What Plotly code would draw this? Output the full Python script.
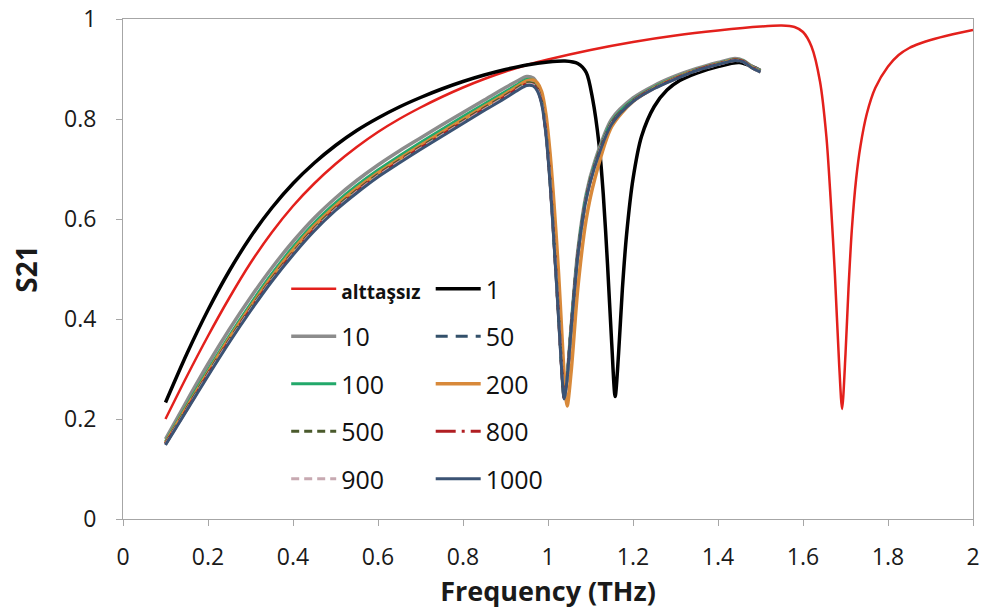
import plotly.graph_objects as go

# ---------------- data ----------------
x_ref = [0.1, 0.15, 0.2, 0.25, 0.3, 0.35, 0.4, 0.45, 0.5, 0.55, 0.6, 0.65, 0.7, 0.75, 0.8,
         0.85, 0.9, 0.95, 1.0, 1.1, 1.2, 1.3, 1.4, 1.5, 1.55, 1.58, 1.6, 1.62, 1.64, 1.655,
         1.665, 1.675, 1.685, 1.692, 1.7, 1.707, 1.715, 1.725, 1.735, 1.75, 1.77, 1.8, 1.825,
         1.85, 1.875, 1.9, 1.95, 2.0]
y_ref = [0.200, 0.285, 0.366, 0.442, 0.512, 0.573, 0.626, 0.671, 0.710, 0.744, 0.774, 0.800,
         0.823, 0.844, 0.863, 0.880, 0.895, 0.908, 0.919, 0.938, 0.954, 0.967, 0.977, 0.985,
         0.987, 0.984, 0.974, 0.945, 0.875, 0.765, 0.640, 0.490, 0.310, 0.220, 0.330, 0.460,
         0.580, 0.680, 0.745, 0.810, 0.862, 0.905, 0.928, 0.942, 0.951, 0.958, 0.969, 0.978]

x_one = [0.1, 0.15, 0.2, 0.25, 0.3, 0.35, 0.4, 0.45, 0.5, 0.55, 0.6, 0.65, 0.7, 0.75, 0.8,
         0.85, 0.9, 0.95, 1.0, 1.04, 1.07, 1.09, 1.105, 1.12, 1.13, 1.14, 1.15, 1.158, 1.166,
         1.175, 1.185, 1.2, 1.22, 1.25, 1.28, 1.31, 1.35, 1.4, 1.45, 1.48, 1.5]
y_one = [0.233, 0.330, 0.418, 0.496, 0.564, 0.622, 0.671, 0.712, 0.747, 0.777, 0.802, 0.824,
         0.843, 0.860, 0.875, 0.888, 0.899, 0.908, 0.914, 0.916, 0.911, 0.893, 0.840, 0.750,
         0.650, 0.510, 0.350, 0.245, 0.330, 0.460, 0.570, 0.680, 0.765, 0.825, 0.858, 0.877,
         0.892, 0.905, 0.913, 0.905, 0.897]

x_sub = [0.1, 0.15, 0.2, 0.25, 0.3, 0.35, 0.4, 0.45, 0.5, 0.55, 0.6, 0.65, 0.7, 0.75, 0.8,
         0.85, 0.9, 0.93, 0.95, 0.965, 0.975, 0.985, 0.995, 1.005, 1.015, 1.025, 1.032, 1.038,
         1.045, 1.055, 1.07, 1.09, 1.11, 1.15, 1.2, 1.25, 1.3, 1.35, 1.4, 1.44, 1.46, 1.48, 1.5]

y_10 = [0.160, 0.236, 0.310, 0.379, 0.443, 0.502, 0.555, 0.602, 0.642, 0.677, 0.708, 0.736,
        0.762, 0.788, 0.813, 0.838, 0.863, 0.877, 0.885, 0.882, 0.869, 0.840, 0.780, 0.680,
        0.550, 0.410, 0.310, 0.245, 0.285, 0.390, 0.535, 0.650, 0.715, 0.800, 0.842, 0.867,
        0.886, 0.901, 0.913, 0.921, 0.917, 0.905, 0.897]
y_50 = [0.150, 0.220, 0.290, 0.357, 0.420, 0.479, 0.532, 0.580, 0.621, 0.656, 0.688, 0.716,
        0.743, 0.769, 0.795, 0.821, 0.846, 0.862, 0.871, 0.870, 0.860, 0.834, 0.775, 0.675,
        0.545, 0.405, 0.305, 0.242, 0.282, 0.388, 0.528, 0.642, 0.707, 0.792, 0.836, 0.862,
        0.881, 0.898, 0.910, 0.918, 0.915, 0.903, 0.895]
y_100 = [0.155, 0.227, 0.298, 0.366, 0.430, 0.490, 0.544, 0.592, 0.632, 0.667, 0.698, 0.726,
         0.753, 0.779, 0.805, 0.830, 0.855, 0.870, 0.879, 0.878, 0.866, 0.840, 0.780, 0.680,
         0.550, 0.410, 0.310, 0.245, 0.285, 0.390, 0.530, 0.645, 0.710, 0.795, 0.838, 0.864,
         0.883, 0.899, 0.911, 0.919, 0.916, 0.904, 0.896]
y_200 = [0.152, 0.223, 0.293, 0.361, 0.424, 0.484, 0.538, 0.586, 0.626, 0.661, 0.692, 0.720,
         0.747, 0.773, 0.799, 0.825, 0.850, 0.866, 0.876, 0.878, 0.872, 0.855, 0.810, 0.730,
         0.620, 0.490, 0.380, 0.290, 0.226, 0.300, 0.460, 0.600, 0.680, 0.785, 0.835, 0.862,
         0.882, 0.898, 0.910, 0.918, 0.915, 0.903, 0.895]
y_500 = [0.151, 0.221, 0.291, 0.358, 0.421, 0.480, 0.533, 0.581, 0.622, 0.657, 0.689, 0.717,
         0.744, 0.770, 0.796, 0.822, 0.847, 0.863, 0.872, 0.871, 0.861, 0.835, 0.776, 0.676,
         0.546, 0.406, 0.306, 0.243, 0.283, 0.388, 0.528, 0.643, 0.708, 0.793, 0.836, 0.862,
         0.881, 0.898, 0.910, 0.918, 0.915, 0.903, 0.895]
y_800 = [0.150, 0.219, 0.289, 0.356, 0.419, 0.478, 0.531, 0.579, 0.620, 0.655, 0.687, 0.715,
         0.742, 0.768, 0.794, 0.820, 0.845, 0.861, 0.870, 0.869, 0.859, 0.833, 0.774, 0.674,
         0.544, 0.404, 0.304, 0.242, 0.282, 0.387, 0.527, 0.642, 0.707, 0.792, 0.836, 0.862,
         0.881, 0.898, 0.910, 0.918, 0.915, 0.903, 0.895]
y_900 = [0.149, 0.218, 0.288, 0.355, 0.418, 0.477, 0.530, 0.578, 0.619, 0.654, 0.686, 0.714,
         0.741, 0.767, 0.793, 0.819, 0.844, 0.860, 0.869, 0.868, 0.858, 0.832, 0.773, 0.673,
         0.543, 0.403, 0.303, 0.241, 0.281, 0.386, 0.526, 0.641, 0.706, 0.791, 0.835, 0.861,
         0.880, 0.897, 0.909, 0.917, 0.914, 0.902, 0.894]
y_1000 = [0.148, 0.217, 0.286, 0.353, 0.416, 0.475, 0.528, 0.576, 0.617, 0.652, 0.684, 0.712,
          0.739, 0.765, 0.791, 0.817, 0.842, 0.858, 0.867, 0.866, 0.856, 0.830, 0.770, 0.670,
          0.540, 0.400, 0.300, 0.240, 0.280, 0.385, 0.525, 0.640, 0.705, 0.790, 0.835, 0.861,
          0.880, 0.897, 0.909, 0.917, 0.914, 0.902, 0.894]

x_ticks = [0, 0.2, 0.4, 0.6, 0.8, 1, 1.2, 1.4, 1.6, 1.8, 2]
y_ticks = [0, 0.2, 0.4, 0.6, 0.8, 1]

FONT = "Open Sans"

# (name, x, y, color, width, dash, legend)
series = [
    ("<b><span style='font-size:19px'>alttaşsız</span></b>", x_ref, y_ref, "#E3201C", 2.5, "solid", "legend"),
    ("1", x_one, y_one, "#000000", 3.5, "solid", "legend2"),
    ("10", x_sub, y_10, "#8C8C8C", 3.5, "solid", "legend"),
    ("50", x_sub, y_50, "#33506A", 3, "12px,8px", "legend2"),
    ("100", x_sub, y_100, "#22A86A", 3, "solid", "legend"),
    ("200", x_sub, y_200, "#D8893A", 3.5, "solid", "legend2"),
    ("500", x_sub, y_500, "#4A5A2C", 3, "8px,5px", "legend"),
    ("800", x_sub, y_800, "#B01E22", 3, "20px,6px,3px,6px", "legend2"),
    ("900", x_sub, y_900, "#C7A9B1", 3, "8px,5px", "legend"),
    ("1000", x_sub, y_1000, "#3B5374", 3, "solid", "legend2"),
]

fig = go.Figure()
for i, (name, xs, ys, col, w, dash, lg) in enumerate(series):
    fig.add_trace(go.Scatter(
        x=xs, y=ys, mode="lines", name=name,
        line=dict(color=col, width=w, dash=dash, shape="spline", smoothing=0.8),
        legend=lg, legendgroup=f"g{i}",
    ))

axis_common = dict(
    showline=True, linecolor="#A6A6A6", linewidth=1, mirror=True, automargin=False,
    ticks="outside", ticklen=6, tickcolor="#A6A6A6", showgrid=False, zeroline=False,
    tickfont=dict(family=FONT, size=23, color="#1a1a1a"),
)

legend_common = dict(xanchor="left", yanchor="top", bgcolor="rgba(0,0,0,0)",
                     font=dict(family=FONT, size=25, color="#111"), tracegroupgap=12, itemwidth=45)

fig.update_layout(
    width=983, height=612,
    margin=dict(l=123, r=10, t=19, b=93),
    paper_bgcolor="white", plot_bgcolor="white",
    font=dict(family=FONT, color="#000"),
    xaxis=dict(range=[0, 2], tickvals=x_ticks, ticklabelstandoff=11,
               title=dict(text="<b>Frequency (THz)</b>", font=dict(family=FONT, size=27, color="#1a1a1a"), standoff=0),
               **axis_common),
    yaxis=dict(range=[0, 1], tickvals=y_ticks, ticklabelstandoff=15,
               title=dict(text="<b>S21</b>", font=dict(family=FONT, size=28, color="#1a1a1a"), standoff=18),
               **axis_common),
    legend=dict(x=0.192, y=0.506, **legend_common),
    legend2=dict(x=0.362, y=0.506, **legend_common),
    showlegend=True,
)

fig.write_html("out.html")
